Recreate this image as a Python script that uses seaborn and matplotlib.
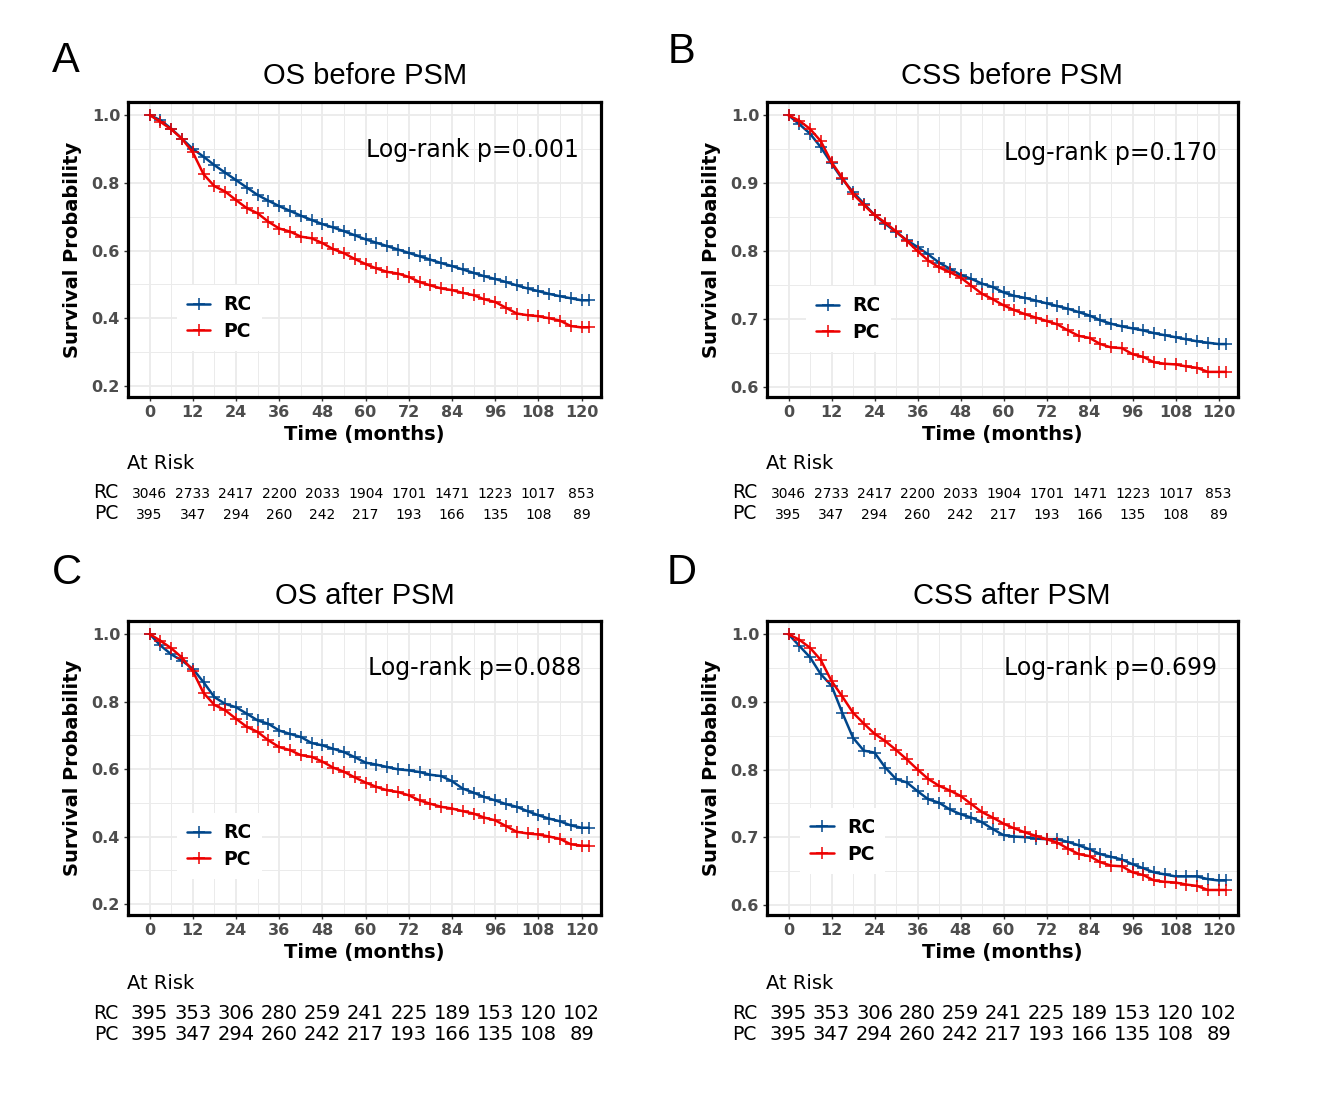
import matplotlib
matplotlib.use("Agg")
import matplotlib.pyplot as plt
import matplotlib.transforms as mtransforms
from matplotlib.ticker import FixedLocator, FormatStrFormatter
import pandas as pd
import seaborn as sns

# ---------------- data ----------------
MONTHS = list(range(0, 121, 3)) + [122]

OS_RC_BEFORE = [1.0, 0.985, 0.96, 0.93, 0.90, 0.877, 0.852, 0.83, 0.808, 0.786, 0.764,
                0.747, 0.731, 0.717, 0.703, 0.69, 0.678, 0.668, 0.657, 0.645, 0.633,
                0.623, 0.613, 0.603, 0.593, 0.583, 0.573, 0.563, 0.554, 0.544, 0.534,
                0.524, 0.516, 0.507, 0.497, 0.488, 0.48, 0.472, 0.465, 0.459, 0.453, 0.453]
OS_RC_AFTER = [1.0, 0.966, 0.94, 0.921, 0.897, 0.857, 0.813, 0.793, 0.783, 0.764, 0.744,
               0.734, 0.714, 0.704, 0.695, 0.677, 0.67, 0.66, 0.65, 0.635, 0.619,
               0.613, 0.606, 0.599, 0.596, 0.591, 0.583, 0.579, 0.564, 0.542, 0.53,
               0.517, 0.507, 0.496, 0.488, 0.475, 0.463, 0.453, 0.445, 0.433, 0.426, 0.426]
OS_PC = [1.0, 0.98, 0.958, 0.93, 0.89, 0.825, 0.79, 0.774, 0.749, 0.725, 0.71,
         0.685, 0.665, 0.656, 0.641, 0.636, 0.622, 0.604, 0.592, 0.575, 0.56,
         0.547, 0.537, 0.532, 0.522, 0.507, 0.497, 0.488, 0.483, 0.475, 0.468,
         0.456, 0.448, 0.431, 0.414, 0.409, 0.406, 0.40, 0.393, 0.377, 0.373, 0.373]

CSS_RC_BEFORE = [1.0, 0.987, 0.973, 0.953, 0.929, 0.906, 0.887, 0.870, 0.853, 0.84, 0.828,
                 0.816, 0.806, 0.795, 0.783, 0.774, 0.765, 0.759, 0.752, 0.747, 0.739,
                 0.734, 0.731, 0.727, 0.723, 0.719, 0.715, 0.71, 0.705, 0.698, 0.693,
                 0.689, 0.686, 0.683, 0.679, 0.676, 0.673, 0.67, 0.667, 0.665, 0.663, 0.663]
CSS_RC_AFTER = [1.0, 0.983, 0.966, 0.941, 0.924, 0.884, 0.847, 0.828, 0.825, 0.803, 0.786,
                0.781, 0.768, 0.756, 0.751, 0.741, 0.734, 0.729, 0.722, 0.712, 0.703,
                0.701, 0.70, 0.698, 0.697, 0.697, 0.693, 0.688, 0.682, 0.675, 0.671,
                0.667, 0.66, 0.654, 0.648, 0.645, 0.642, 0.642, 0.642, 0.638, 0.636, 0.636]
CSS_PC = [1.0, 0.992, 0.98, 0.962, 0.931, 0.908, 0.884, 0.868, 0.853, 0.842, 0.829,
          0.815, 0.80, 0.786, 0.776, 0.769, 0.761, 0.749, 0.737, 0.729, 0.72,
          0.713, 0.707, 0.702, 0.697, 0.692, 0.683, 0.675, 0.672, 0.663, 0.658,
          0.657, 0.648, 0.644, 0.636, 0.634, 0.633, 0.63, 0.628, 0.622, 0.622, 0.622]

RISK_TIMES = [0, 12, 24, 36, 48, 60, 72, 84, 96, 108, 120]
RISK_RC_BEFORE = [3046, 2733, 2417, 2200, 2033, 1904, 1701, 1471, 1223, 1017, 853]
RISK_RC_AFTER = [395, 353, 306, 280, 259, 241, 225, 189, 153, 120, 102]
RISK_PC = [395, 347, 294, 260, 242, 217, 193, 166, 135, 108, 89]

GROUPS = ["RC", "PC"]
COLORS = {"RC": "#00468B", "PC": "#ED0000"}

OS_YTICKS = [0.2, 0.4, 0.6, 0.8, 1.0]
OS_YMINOR = [0.3, 0.5, 0.7, 0.9]
CSS_YTICKS = [0.6, 0.7, 0.8, 0.9, 1.0]
CSS_YMINOR = [0.65, 0.75, 0.85, 0.95]
X_TICKS = list(range(0, 121, 12))
X_MINOR = list(range(6, 121, 12))

# ---------------- figure ----------------
sns.set_theme(style="white")
plt.rcParams["font.family"] = ["DejaVu Sans"]
plt.rcParams["text.color"] = "black"
plt.rcParams["axes.labelcolor"] = "black"

W, H = 1326, 1101
fig = plt.figure(figsize=(W / 100, H / 100), dpi=100)
fig.patch.set_facecolor("white")

TITLE_FONT = ["Liberation Sans", "DejaVu Sans"]

panels = [
    dict(box=(128, 102, 601, 397), rc=OS_RC_BEFORE, pc=OS_PC, ylim=(0.1675, 1.0385),
         yt=OS_YTICKS, ym=OS_YMINOR, title="OS before PSM", tpos=(365, 84),
         letter="A", lpos=(52, 72), ptxt="Log-rank p=0.001", ppos=(0.954, 0.838),
         leg=(0.103, 0.155), rrc=RISK_RC_BEFORE, rpc=RISK_PC, nfs=10,
         rows=(469, 498, 519)),
    dict(box=(767, 102, 1238, 397), rc=CSS_RC_BEFORE, pc=CSS_PC, ylim=(0.585, 1.0196),
         yt=CSS_YTICKS, ym=CSS_YMINOR, title="CSS before PSM", tpos=(1012, 84),
         letter="B", lpos=(668, 63), ptxt="Log-rank p=0.170", ppos=(0.956, 0.828),
         leg=(0.082, 0.152), rrc=RISK_RC_BEFORE, rpc=RISK_PC, nfs=10,
         rows=(469, 498, 519)),
    dict(box=(128, 621, 601, 915), rc=OS_RC_AFTER, pc=OS_PC, ylim=(0.1675, 1.0385),
         yt=OS_YTICKS, ym=OS_YMINOR, title="OS after PSM", tpos=(365, 604),
         letter="C", lpos=(52, 584), ptxt="Log-rank p=0.088", ppos=(0.958, 0.84),
         leg=(0.103, 0.122), rrc=RISK_RC_AFTER, rpc=RISK_PC, nfs=14,
         rows=(989, 1019, 1040)),
    dict(box=(767, 621, 1238, 915), rc=CSS_RC_AFTER, pc=CSS_PC, ylim=(0.585, 1.0196),
         yt=CSS_YTICKS, ym=CSS_YMINOR, title="CSS after PSM", tpos=(1012, 604),
         letter="D", lpos=(667, 584), ptxt="Log-rank p=0.699", ppos=(0.956, 0.84),
         leg=(0.07, 0.14), rrc=RISK_RC_AFTER, rpc=RISK_PC, nfs=14,
         rows=(989, 1019, 1040)),
]

for p in panels:
    l, t, r, b = p["box"]
    ax = fig.add_axes([l / W, 1 - b / H, (r - l) / W, (b - t) / H])
    ax.set_facecolor("white")

    df = pd.concat([
        pd.DataFrame({"month": MONTHS, "surv": p["rc"], "group": "RC"}),
        pd.DataFrame({"month": MONTHS, "surv": p["pc"], "group": "PC"}),
    ])
    for g in GROUPS:
        sns.lineplot(data=df[df["group"] == g], x="month", y="surv", ax=ax,
                     color=COLORS[g], linewidth=1.8,
                     marker="+", markersize=8, markeredgewidth=1.1,
                     markeredgecolor=COLORS[g], markerfacecolor=COLORS[g],
                     estimator=None, errorbar=None, label=g, zorder=3)

    ax.set_xlim(-6.0, 125.4)
    ax.set_ylim(*p["ylim"])
    ax.xaxis.set_major_locator(FixedLocator(X_TICKS))
    ax.xaxis.set_minor_locator(FixedLocator(X_MINOR))
    ax.yaxis.set_major_locator(FixedLocator(p["yt"]))
    ax.yaxis.set_minor_locator(FixedLocator(p["ym"]))
    ax.yaxis.set_major_formatter(FormatStrFormatter("%.1f"))

    ax.set_axisbelow(True)
    ax.grid(which="major", color="#ebebeb", linewidth=1.3)
    ax.grid(which="minor", color="#ebebeb", linewidth=0.7)

    ax.tick_params(which="major", direction="out", length=3.2, width=1.0,
                   color="#333333", pad=2.5, labelsize=11.5, labelcolor="#4d4d4d",
                   bottom=True, left=True)
    ax.tick_params(which="minor", length=0)
    for lab in ax.get_xticklabels() + ax.get_yticklabels():
        lab.set_fontweight("bold")

    for sp in ax.spines.values():
        sp.set_color("black")
        sp.set_linewidth(2.3)
        sp.set_zorder(5)

    ax.set_xlabel("Time (months)", fontsize=14, fontweight="bold", color="black")
    ax.set_ylabel("Survival Probability", fontsize=14, fontweight="bold", color="black")
    ax.xaxis.set_label_coords(0.5, -0.094)
    ax.yaxis.set_label_coords(-0.098, 0.5)

    handles, labels = ax.get_legend_handles_labels()
    leg = ax.legend(handles, labels, loc="lower left", bbox_to_anchor=p["leg"],
                    borderaxespad=0, frameon=True, fancybox=False, facecolor="white",
                    edgecolor="none", framealpha=1.0,
                    prop=dict(weight="bold", size=13.5), handlelength=1.25,
                    handletextpad=0.7, labelspacing=0.4, borderpad=0.55)
    leg.set_zorder(4)
    for txt in leg.get_texts():
        txt.set_color("black")

    ax.text(p["ppos"][0], p["ppos"][1], p["ptxt"], transform=ax.transAxes,
            ha="right", va="center", fontsize=17, color="black")

    # titles and panel letters
    fig.text(p["tpos"][0] / W, 1 - p["tpos"][1] / H, p["title"], ha="center",
             va="baseline", fontsize=21, family=TITLE_FONT, color="black")
    fig.text(p["lpos"][0] / W, 1 - p["lpos"][1] / H, p["letter"], ha="left",
             va="baseline", fontsize=30, family=TITLE_FONT, color="black")

    # at-risk table
    y_at, y_rc, y_pc = p["rows"]
    fig.text((l - 1) / W, 1 - y_at / H, "At Risk", ha="left", va="baseline",
             fontsize=14, color="black")
    fig.text((l - 10) / W, 1 - y_rc / H, "RC", ha="right", va="baseline",
             fontsize=13.5, color="black")
    fig.text((l - 10) / W, 1 - y_pc / H, "PC", ha="right", va="baseline",
             fontsize=13.5, color="black")
    trans = mtransforms.blended_transform_factory(ax.transData, fig.transFigure)
    for tm, nrc, npc in zip(RISK_TIMES, p["rrc"], p["rpc"]):
        ax.text(tm, 1 - y_rc / H, str(nrc), transform=trans, ha="center",
                va="baseline", fontsize=p["nfs"], clip_on=False, color="black")
        ax.text(tm, 1 - y_pc / H, str(npc), transform=trans, ha="center",
                va="baseline", fontsize=p["nfs"], clip_on=False, color="black")

fig.savefig("out.png", dpi=100, facecolor="white")
